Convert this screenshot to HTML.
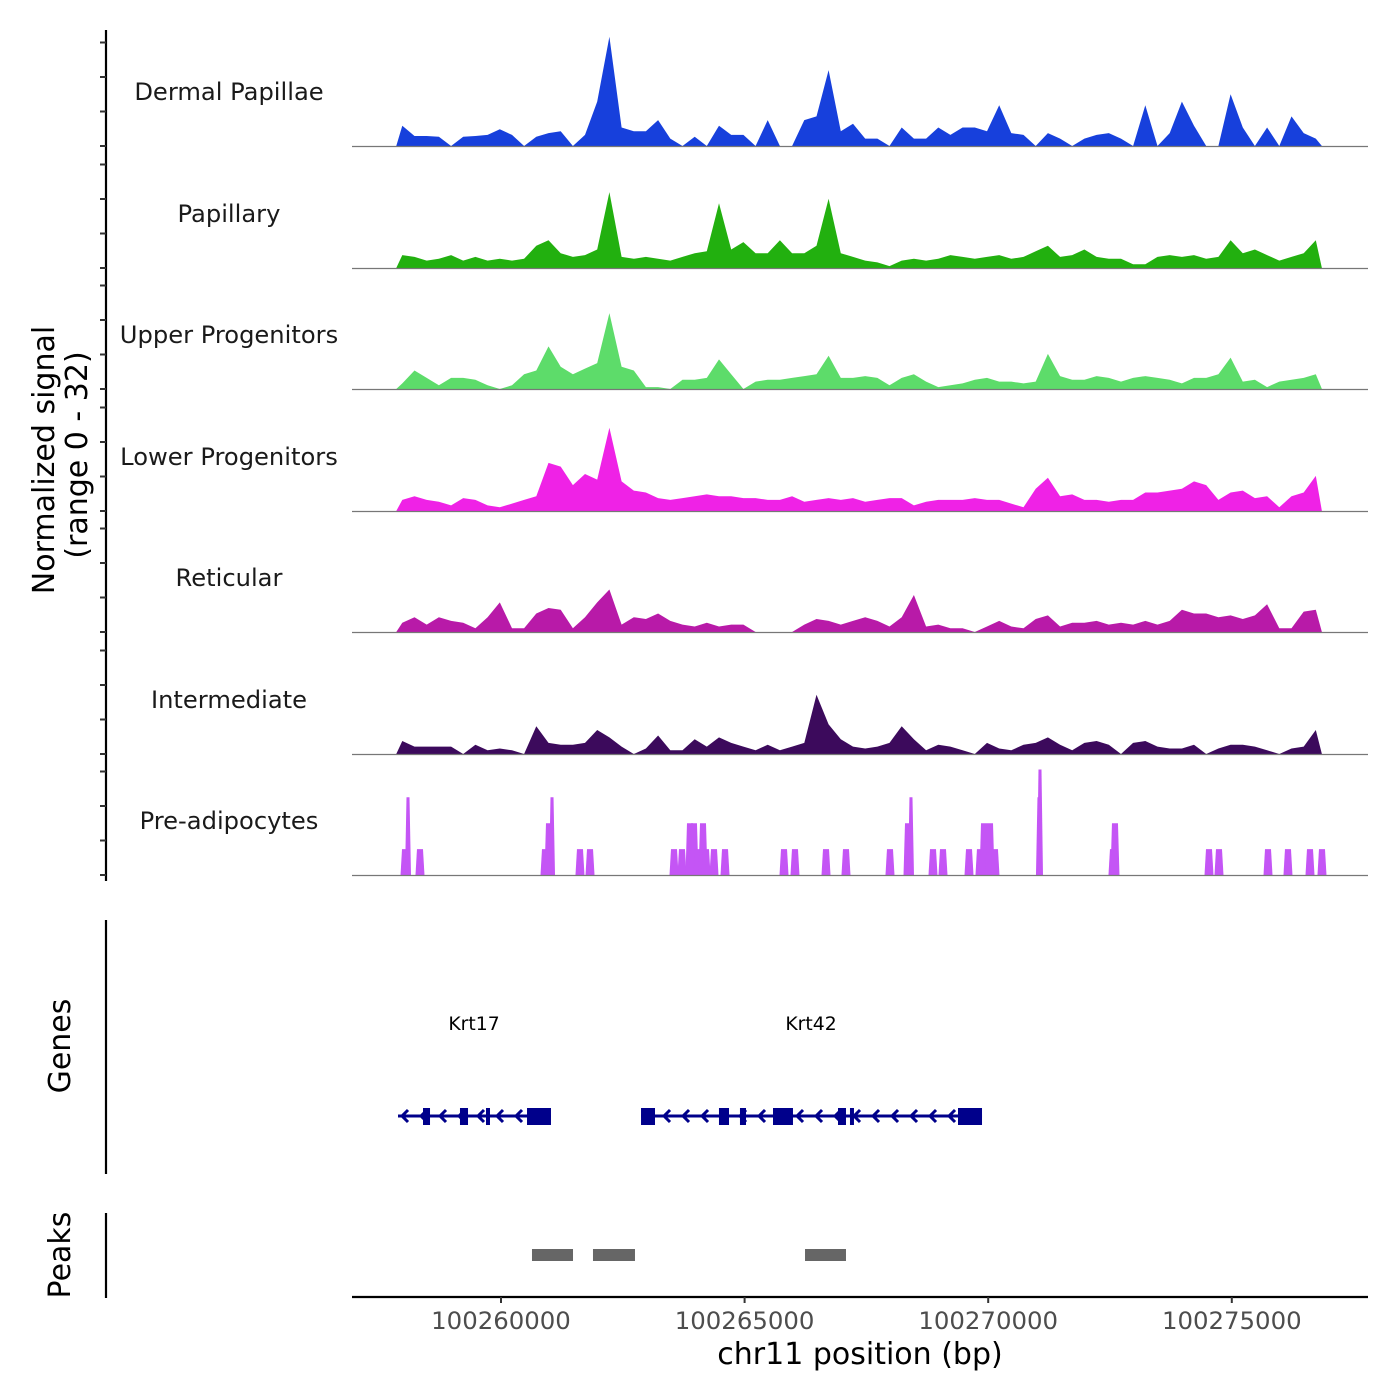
<!DOCTYPE html>
<html><head><meta charset="utf-8">
<style>
html,body{margin:0;padding:0;background:#fff;}
svg{display:block;font-family:"DejaVu Sans","Liberation Sans",sans-serif;}
</style></head>
<body>
<svg id="chart" width="1400" height="1400" viewBox="0 0 1400 1400" xmlns="http://www.w3.org/2000/svg">
<rect width="1400" height="1400" fill="#fff"/>
<g id="tracks"></g>
<g id="yaxis"></g>
<text transform="translate(54,460) rotate(-90)" text-anchor="middle" font-size="30" fill="#000">Normalized signal</text>
<text transform="translate(87,455) rotate(-90)" text-anchor="middle" font-size="30" fill="#000">(range 0 - 32)</text>
<line x1="106" y1="920" x2="106" y2="1174" stroke="#000" stroke-width="2.2"/>
<text transform="translate(70,1046) rotate(-90)" text-anchor="middle" font-size="30" fill="#000">Genes</text>
<line x1="106" y1="1213" x2="106" y2="1298" stroke="#000" stroke-width="2.2"/>
<text transform="translate(70,1255) rotate(-90)" text-anchor="middle" font-size="30" fill="#000">Peaks</text>
<g id="genes"></g>
<g id="peaks"></g>
<g id="xaxis"></g>
<text x="860" y="1364" text-anchor="middle" font-size="30" fill="#000">chr11 position (bp)</text>
</svg>
<script>
const trackNames = ["Dermal Papillae","Papillary","Upper Progenitors","Lower Progenitors","Reticular","Intermediate","Pre-adipocytes"];
const trackColors = ["#1740dc","#22b00f","#5ddc6a","#ef22e6","#b81aa8","#3c0a5c","#c455f5"];
const binStart = 100257850;
const binSize = 250;
const dermalPapillae = [5.5,2.7,2.7,2.5,0,2.5,2.7,3,4.5,3,0,2.5,3.5,4,0,3,12,29.5,5,4,4,7,2,0,2.5,0,5.5,3,3,0,7,0,0,7,8,20.5,4,6,2,2,0,5,2,2,5,3,5,5,4,11,3.5,3,0,3.5,2,0,2,3,3.5,2,0,11,0,3.5,12,5.5,0,0,14,5,0,5,0,8,3.5,2];
const papillary = [3.5,3,2,2.5,3.5,2,3,2,2.5,2,2.5,6,7.5,4,3,3.5,5,20.5,3,2.5,3,2.5,2,3,4,4.5,17.5,5,7,4,4,7.5,4,4,6,18.7,4,3,2,1.5,0.5,2,2.5,2,2.5,3.5,3,2.5,3,3.5,2.5,3,4.5,6,3,3.5,5,3,2.5,2.5,1,1,3,3.5,3,3.5,2.5,3,7.5,4,5,3.5,2,3,4,7.5];
const upperProgenitors = [1.5,5,3,1,3,3,2.5,1,0,1,4,5,11.5,6,4,5.5,7,20.5,6,5,0.5,0.5,0,2.5,2.5,3,8,4,0,2,2.5,2.5,3,3.5,4,9,3,3,3.5,3,1,3,4,2,0.5,1,1.5,2.5,3,2,2,1.5,2,9.5,3.5,2.5,2.5,3.5,3,2,3,3.5,3,2.5,1.5,3,3,4,8.5,2,2.5,0.5,2,2.5,3,4];
const lowerProgenitors = [3,4,3,2.5,1.5,3.5,3,1.5,1,2,3,4,13,12,7,10,8.5,22.5,8,5.5,5,3.5,3,3.5,4,4.5,4,4,3.5,3.5,3,3,4,2.5,3,3.5,3,3.5,2.5,3,3.5,3.5,1.5,2.5,3,3,3,3.5,3,3,2,1,6,9,4,4.5,3,3,2.5,3,3,5,5,5.5,6,8,7,3,5,5.5,3.5,4,1,4,5,9.5];
const reticular = [2.5,4,2,4,3,2.5,1,4,8,1,1,5,6.5,6,1,4,8,11.5,2,4,3.5,5,3,2,1.5,2.5,1.5,2,2,0,0,0,0,2,3.5,3,2,3,4,3,1.5,4,10,1.5,2,1,1,0,1.5,3,1.5,1,3.5,4.5,1.5,2.5,2.5,3,2,2.5,2,3,2,3,6,5,5,4,4.5,3.5,4.5,7.5,1,1,5.5,6];
const intermediate = [3.5,2,2,2,2,0,2.5,1,1.5,1,0,7.5,3,2.5,2.5,3,6.5,4.5,2,0,1.5,5,1,1,4,2,4.5,3,2,1,2.5,1,2,3,16,8,4,2,1.5,2,3,7.5,4,1,2.5,2,1,0,3,1.5,1,2.5,3,4.5,2.5,1,3,3.5,2.5,0,3,3.5,2,1.5,1.5,2.5,0,1.5,2.5,2.5,2,1,0,1.5,2,6.5];
const preadipoPos = [100258030,100258091,100258337,100260903,100260985,100261047,100261621,100261827,100263551,100263715,100263879,100263961,100264043,100264146,100264208,100264372,100264598,100265809,100266034,100266671,100267081,100267984,100268354,100268415,100268867,100269072,100269606,100269831,100269914,100270037,100270139,100271042,100271063,100272561,100272602,100274532,100274737,100275743,100276153,100276605,100276851];
const preadipoVal = [7,21,7,7,14,21,7,7,7,7,14,14,7,14,7,7,7,7,7,7,7,7,14,21,7,7,7,7,14,14,7,21,28.5,7,14,7,7,7,7,7,7];
const xTicks = [100260000,100265000,100270000,100275000];
const genes = ["Krt17","Krt42"];
const geneStart = [100257886,100262874];
const geneEnd = [100261026,100269873];
const exonStarts = [[100258399,100259158,100259692,100260534],[100262874,100264474,100264905,100265583,100266917,100267163,100269380]];
const exonEnds = [[100258543,100259323,100259774,100261026],[100263161,100264680,100265029,100265993,100267081,100267245,100269873]];
const peakStart = [100260636,100261888,100266240];
const peakEnd = [100261478,100262750,100267081];

const NS = "http://www.w3.org/2000/svg";
function mk(tag, attrs, parent){const e=document.createElementNS(NS,tag);for(const k in attrs)e.setAttribute(k,attrs[k]);parent.appendChild(e);return e;}
const xs = bp => 501 + (bp - 100260000) * 0.04872;
const PX_PER_UNIT = 3.7;
const baselines = [146,268,389,511,632,754,875];
const ys = (v, t) => baselines[t] - v * PX_PER_UNIT;
const binned = [dermalPapillae,papillary,upperProgenitors,lowerProgenitors,reticular,intermediate];

const tg = document.getElementById('tracks');
for (let t=0;t<7;t++){
  const lab = mk('text',{x:229,y:baselines[t]-46,'text-anchor':'middle','font-size':'24.2',fill:'#1a1a1a'},tg);
  
  
  lab.textContent = trackNames[t];
  if (t<6){
    const vals = binned[t];
    let d = 'M'+xs(binStart)+','+baselines[t];
    for (let k=0;k<vals.length;k++){
      const c = binStart + (k+0.5)*binSize;
      d += ' L'+xs(c).toFixed(1)+','+ys(vals[k],t).toFixed(1);
    }
    d += ' L'+xs(binStart+vals.length*binSize).toFixed(1)+','+baselines[t]+' Z';
    const p = mk('path',{d:d,fill:trackColors[t]},tg);
    
    
  } else {
    for (let i=0;i<preadipoPos.length;i++){
      const x = xs(preadipoPos[i]);
      const y = ys(preadipoVal[i],t);
      const w = preadipoVal[i] > 14 ? 1.5 : 3;
      const p = mk('path',{d:`M${x-w-1.5},${baselines[t]} L${x-w},${y} L${x+w},${y} L${x+w+1.5},${baselines[t]} Z`,fill:trackColors[t]},tg);
      
      
    }
  }
  const bl = mk('line',{x1:352,x2:1368,y1:baselines[t]+0.5,y2:baselines[t]+0.5,stroke:'#777','stroke-width':1.2},tg);
  
  
}

const ya = document.getElementById('yaxis');
const al = mk('line',{x1:106,x2:106,y1:30,y2:881,stroke:'#000','stroke-width':2.2},ya);


for (let t=0;t<7;t++){
  for (let j=0;j<4;j++){
    const y = baselines[t] - j*34.5;
    const tk = mk('line',{x1:100,x2:106,y1:y,y2:y,stroke:'#333','stroke-width':2},ya);
    
    
  }
}

const gg = document.getElementById('genes');
for (let g=0;g<genes.length;g++){
  const x1 = xs(geneStart[g]), x2 = xs(geneEnd[g]);
  const ln = mk('line',{x1:x1,x2:x2,y1:1116,y2:1116,stroke:'#00008b','stroke-width':3},gg);
  
  
  for (let x=x1+4;x<x2-10;x+=19){
    const ar = mk('path',{d:`M${x+6},${1110} L${x},${1116} L${x+6},${1122}`,fill:'none',stroke:'#00008b','stroke-width':3},gg);
    
    
  }
  for (let e=0;e<exonStarts[g].length;e++){
    const ex = mk('rect',{x:xs(exonStarts[g][e]),y:1108,width:Math.max(3,xs(exonEnds[g][e])-xs(exonStarts[g][e])),height:17,fill:'#00008b'},gg);
    
    
  }
  const lb = mk('text',{x:(g===0?474:811),y:1030,'text-anchor':'middle','font-size':'18.8',fill:'#000'},gg);
  
  
  lb.textContent = genes[g];
}

const pg = document.getElementById('peaks');
for (let i=0;i<peakStart.length;i++){
  const r = mk('rect',{x:xs(peakStart[i]),y:1249,width:xs(peakEnd[i])-xs(peakStart[i]),height:12,fill:'#666'},pg);
  
  
}

const xa = document.getElementById('xaxis');
const xl = mk('line',{x1:352,x2:1368,y1:1297,y2:1297,stroke:'#000','stroke-width':2.2},xa);


for (const v of xTicks){
  const x = xs(v);
  const tk = mk('line',{x1:x,x2:x,y1:1297,y2:1303,stroke:'#333','stroke-width':2},xa);
  
  
  const tl = mk('text',{x:x,y:1329,'text-anchor':'middle','font-size':'24.4',fill:'#4d4d4d'},xa);
  
  
  tl.textContent = v;
}
</script>
</body></html>
